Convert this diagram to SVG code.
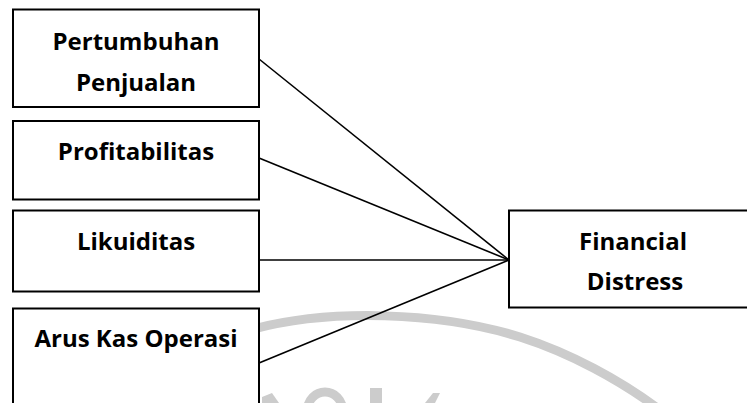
<svg xmlns="http://www.w3.org/2000/svg" width="747" height="403" viewBox="0 0 747 403">
  <style>
    .box { fill: #ffffff; stroke: #000000; stroke-width: 2; }
    .lbl { font-family: "Open Sans", "Liberation Sans", sans-serif; font-weight: 700; font-size: 24px; fill: #000000; text-anchor: middle; }
    .conn { stroke: #000000; stroke-width: 1.6; fill: none; }
    .wm { fill: #cccccc; }
    .wms { stroke: #cccccc; fill: none; }
  </style>
  <rect x="0" y="0" width="747" height="403" fill="#ffffff"/>
  <g id="watermark">
    <path class="wms" stroke-width="9" d="M250,330 C330,308 440,312 520,337 C570,353 620,380 660,410"/>
    <polygon class="wm" points="262,397 272,393 279,403 262,403"/>
    <ellipse class="wms" stroke-width="9" cx="325" cy="410" rx="17.5" ry="18"/>
    <rect class="wm" x="370" y="388" width="12" height="15"/>
    <polygon class="wm" points="433,393 440,393 435,403 425,403"/>
  </g>
  <g id="connectors">
    <line class="conn" x1="259" y1="59" x2="509" y2="260"/>
    <line class="conn" x1="259" y1="158" x2="509" y2="260"/>
    <line class="conn" x1="259" y1="260" x2="509" y2="260"/>
    <line class="conn" x1="259" y1="363" x2="509" y2="260"/>
  </g>
  <g id="node-pertumbuhan">
    <rect class="box" x="13" y="9.5" width="246" height="97.5"/>
    <text class="lbl" x="136" y="50">Pertumbuhan</text>
    <text class="lbl" x="136" y="90.5">Penjualan</text>
  </g>
  <g id="node-profitabilitas">
    <rect class="box" x="13" y="121" width="246" height="78.5"/>
    <text class="lbl" x="136" y="159.5">Profitabilitas</text>
  </g>
  <g id="node-likuiditas">
    <rect class="box" x="13" y="210.5" width="246" height="81"/>
    <text class="lbl" x="136" y="249.5">Likuiditas</text>
  </g>
  <g id="node-arus-kas">
    <rect class="box" x="13" y="308.5" width="246" height="110"/>
    <text class="lbl" x="136" y="346.5">Arus Kas Operasi</text>
  </g>
  <g id="node-financial-distress">
    <rect class="box" x="509" y="210.5" width="260" height="97"/>
    <text class="lbl" x="633" y="249.5">Financial</text>
    <text class="lbl" x="635" y="289.5">Distress</text>
  </g>
</svg>
